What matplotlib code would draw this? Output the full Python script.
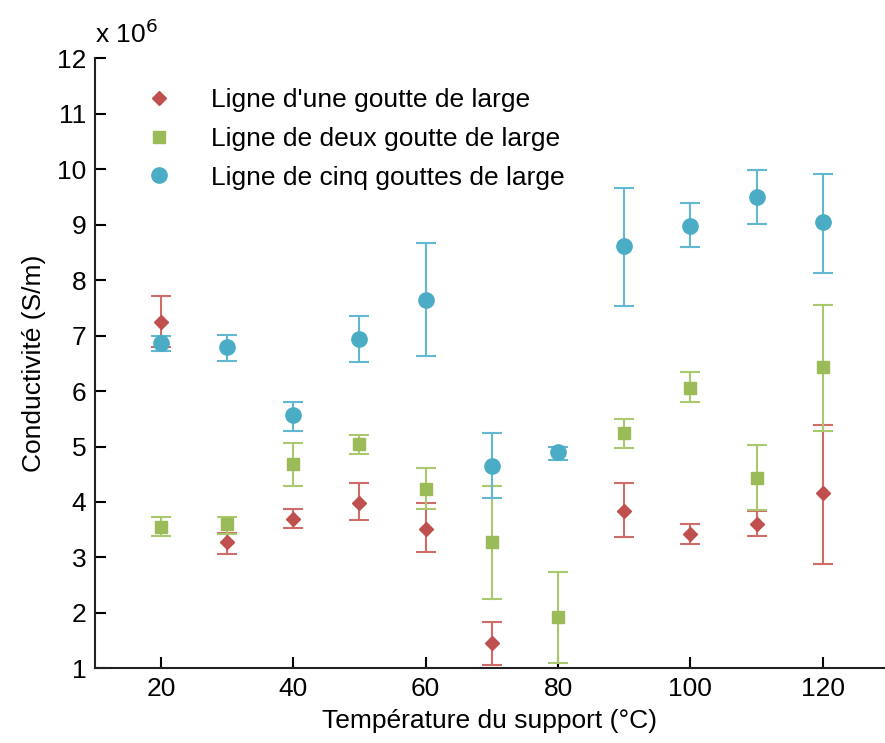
import matplotlib.pyplot as plt
import numpy as np

plt.rcParams['font.family'] = ['Liberation Sans', 'DejaVu Sans']

temps = [20, 30, 40, 50, 60, 70, 80, 90, 100, 110, 120]

# values in units of 1e6 S/m
une_t = [20, 30, 40, 50, 60, 70, 90, 100, 110, 120]
une = [7.25, 3.28, 3.70, 3.99, 3.52, 1.45, 3.84, 3.42, 3.60, 4.16]
une_lo = [6.80, 3.06, 3.53, 3.67, 3.10, 1.06, 3.36, 3.24, 3.39, 2.89]
une_hi = [7.71, 3.44, 3.87, 4.34, 3.98, 1.84, 4.34, 3.60, 3.84, 5.39]

deux = [3.55, 3.60, 4.68, 5.04, 4.23, 3.27, 1.93, 5.25, 6.05, 4.44, 6.44]
deux_lo = [3.39, 3.43, 4.29, 4.86, 3.87, 2.25, 1.09, 4.97, 5.81, 3.85, 5.28]
deux_hi = [3.73, 3.72, 5.07, 5.21, 4.61, 4.29, 2.74, 5.49, 6.34, 5.03, 7.56]

cinq = [6.87, 6.79, 5.57, 6.93, 7.64, 4.65, 4.90, 8.62, 8.97, 9.50, 9.04]
cinq_lo = [6.73, 6.55, 5.28, 6.52, 6.64, 4.08, 4.76, 7.53, 8.59, 9.01, 8.13]
cinq_hi = [6.99, 7.01, 5.81, 7.35, 8.67, 5.25, 5.00, 9.67, 9.40, 9.99, 9.91]

labels = ["Ligne d'une goutte de large",
          "Ligne de deux goutte de large",
          "Ligne de cinq gouttes de large"]


def yerr(v, lo, hi):
    v = np.array(v)
    return [v - np.array(lo), np.array(hi) - v]


fig = plt.figure(figsize=(8.85, 7.43), dpi=100)
ax = fig.add_axes([0.107, 0.1005, 0.893, 0.821])

series = [
    (une_t, une, une_lo, une_hi, 'D', 7, '#C0504D', '#CF6B68'),
    (temps, deux, deux_lo, deux_hi, 's', 9, '#9BBB59', '#AAC86E'),
    (temps, cinq, cinq_lo, cinq_hi, 'o', 11, '#4BACC6', '#62B8D0'),
]
handles = []
for (x, v, lo, hi, m, ms, c, ec), lab in zip(series, labels):
    ax.errorbar(x, v, yerr=yerr(v, lo, hi), fmt='none', ecolor=ec,
                elinewidth=1.5, capsize=7, capthick=1.5, zorder=2)
    h, = ax.plot(x, v, linestyle='none', marker=m, ms=ms, color=c,
                 label=lab, zorder=3)
    handles.append(h)

ax.set_xlim(10, 129.4)
ax.set_ylim(1, 12)
ax.set_xticks([20, 40, 60, 80, 100, 120])
ax.set_yticks(range(1, 13))
ax.tick_params(direction='in', length=8, width=1.5, labelsize=19, pad=6)
for s in ['top', 'right']:
    ax.spines[s].set_visible(False)
for s in ['left', 'bottom']:
    ax.spines[s].set_linewidth(1.5)
    ax.spines[s].set_color('#222222')

ax.set_xlabel('Température du support (°C)', fontsize=19, labelpad=6)
ax.set_ylabel('Conductivité (S/m)', fontsize=19, labelpad=8)
fig.text(0.107, 0.935, 'x 10$^6$', fontsize=19, ha='left', va='bottom')

ax.legend(handles=handles, loc='upper left', bbox_to_anchor=(0.035, 0.99),
          frameon=False, fontsize=19, handlelength=1.0, handletextpad=1.45,
          labelspacing=0.56, markerscale=1.0)

fig.savefig('out.png', dpi=100)
